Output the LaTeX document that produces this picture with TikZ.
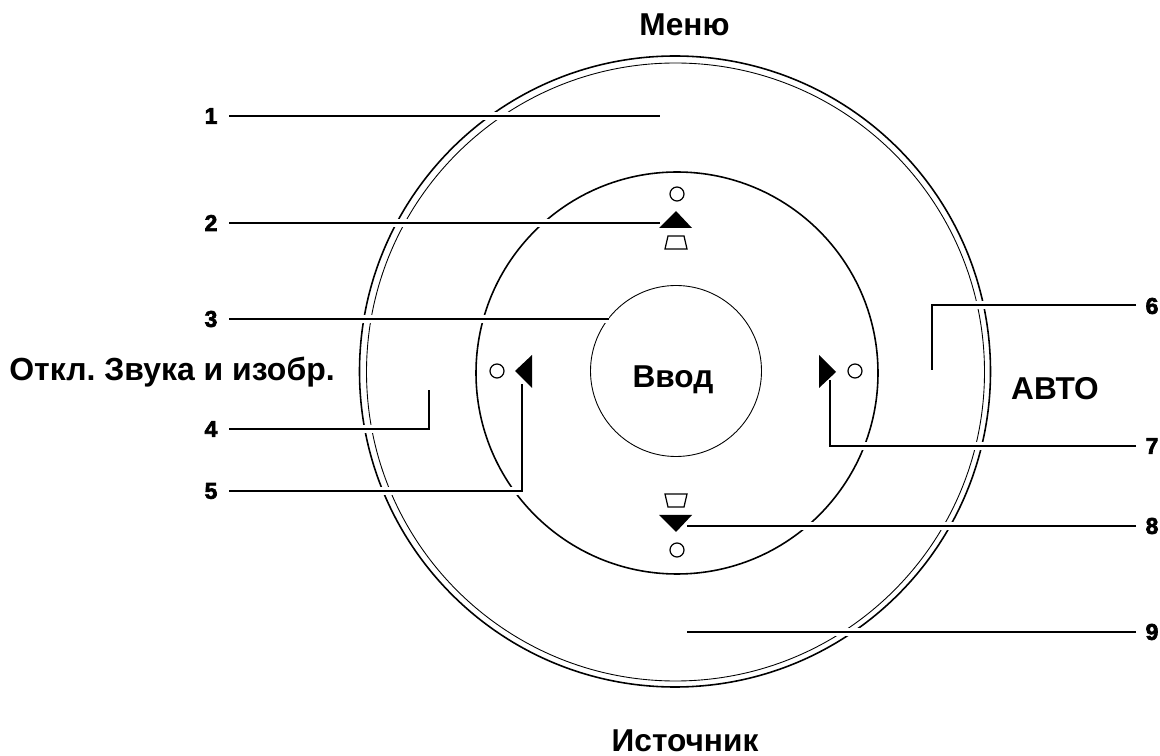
\documentclass[tikz,border=0pt]{standalone}
\usepackage{fontspec}
\setmainfont{Liberation Sans}
\newfontfamily\numfont[FakeBold=3]{Liberation Sans Bold}
\frenchspacing
\begin{document}
\begin{tikzpicture}[x=0.02cm,y=-0.02cm]

	\tikzset{button text/.style={font=\bfseries\fontsize{18}{20}\selectfont, inner sep=0pt, anchor=base}};
	\tikzset{number text/.style={font=\numfont\fontsize{13}{14}\selectfont, inner sep=0pt}};
	\tikzset{ring lines/.style={line width=0.9pt}};
	\tikzset{thin ring/.style={line width=0.5pt}};
	\tikzset{leader halo/.style={white, line width=4pt}};
	\tikzset{leader lines/.style={line width=1pt}};
	\tikzset{marker lines/.style={line width=0.7pt}};

	\useasboundingbox (0,0) rectangle (1160,756);

	\draw[ring lines] (675,371.5) circle (315.5);
	\draw[thin ring] (675.5,372) circle (309);
	\draw[ring lines] (677,373) circle (201);
	\draw[thin ring] (676,371) circle (85.5);

	% little circles
	\foreach \x/\y in {677/194,497/371,855/371,677/550}
		\draw[marker lines] (\x,\y) circle (7);

	% triangles
	\fill (659,228) -- (676,211) -- (692,228) -- cycle;
	\fill (659,515) -- (676,532) -- (692,515) -- cycle;
	\fill (532,355) -- (515,371) -- (532,388) -- cycle;
	\fill (819,355) -- (836,372) -- (819,388) -- cycle;

	% trapezoids
	\draw[marker lines] (665,249) -- (668,236) -- (684,236) -- (687,249) -- cycle;
	\draw[marker lines] (665,494) -- (668,507) -- (684,507) -- (687,494) -- cycle;

	\node[button text] (menu) at (684.5,36) {Меню};
	\node[button text] (enter) at (673,388) {Ввод};
	\node[button text] (auto) at (1055,400) {АВТО};
	\node[button text] (source) at (685,751) {Источник};
	\node[button text, anchor=base west, font=\bfseries\fontsize{18.2}{20}\selectfont] (mute) at (9,381) {Откл. Звука и изобр.};

	% left side
	\foreach \n/\y/\ex in {1/116/660,2/223/660,3/319/609}{
		\node[number text] (num\n) at (211,\y) {\n};
		\coordinate (start\n) at (229,\y);
		\coordinate (end\n) at (\ex,\y);
		\draw[leader halo] (start\n) -- (end\n);
		\draw[leader lines] (start\n) -- (end\n);
	}
	\node[number text] (num4) at (211,429) {4};
	\coordinate (start4) at (229,429);
	\coordinate (bend4) at (429,429);
	\coordinate (end4) at (429,390);
	\draw[leader halo] (start4) -- (bend4);
	\draw[leader lines] (start4) -- (bend4) -- (end4);

	\node[number text] (num5) at (211,491) {5};
	\coordinate (start5) at (229,491);
	\coordinate (bend5) at (522,491);
	\coordinate (end5) at (522,384);
	\draw[leader halo] (start5) -- (bend5);
	\draw[leader lines] (start5) -- (bend5) -- (end5);

	% right side
	\node[number text] (num6) at (1152,306) {6};
	\coordinate (start6) at (1136,305);
	\coordinate (bend6) at (932,305);
	\coordinate (end6) at (932,370);
	\draw[leader halo] (start6) -- (bend6);
	\draw[leader lines] (start6) -- (bend6) -- (end6);

	\node[number text] (num7) at (1152,446) {7};
	\coordinate (start7) at (1136,446);
	\coordinate (bend7) at (830,446);
	\coordinate (end7) at (830,380);
	\draw[leader halo] (start7) -- (bend7);
	\draw[leader lines] (start7) -- (bend7) -- (end7);

	\foreach \n/\y/\ex in {8/526/687,9/632/687}{
		\node[number text] (num\n) at (1152,\y) {\n};
		\coordinate (start\n) at (1136,\y);
		\coordinate (end\n) at (\ex,\y);
		\draw[leader halo] (start\n) -- (end\n);
		\draw[leader lines] (start\n) -- (end\n);
	}

\end{tikzpicture}
\end{document}
